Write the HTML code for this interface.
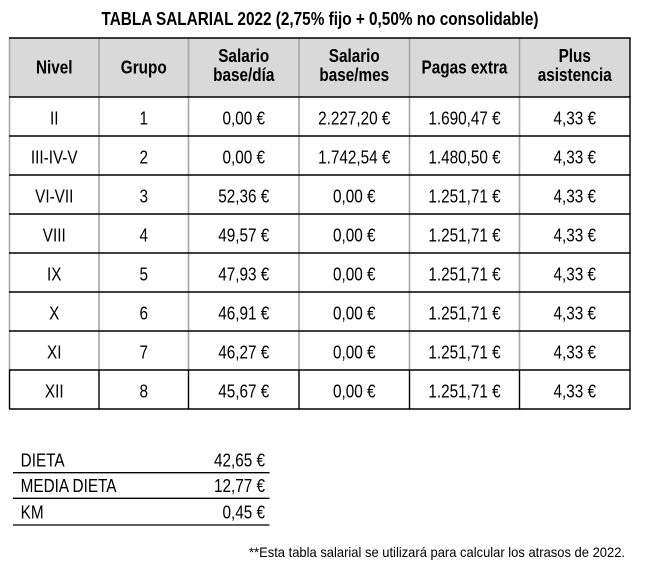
<!DOCTYPE html>
<html>
<head>
<meta charset="utf-8">
<style>
  html, body { margin:0; padding:0; background:#fff; }
  svg { display:block; }
  text { font-family: "Liberation Sans", Arial, sans-serif; fill:#000; }
</style>
</head>
<body>
<svg width="650" height="569" viewBox="0 0 650 569" xmlns="http://www.w3.org/2000/svg">
  <rect x="0" y="0" width="650" height="569" fill="#fff"/>

  <!-- Title -->
  <text x="320" y="25" font-size="18.67" font-weight="bold" text-anchor="middle" textLength="437" lengthAdjust="spacingAndGlyphs">TABLA SALARIAL 2022 (2,75% fijo + 0,50% no consolidable)</text>

  <!-- Header fill -->
  <rect x="9.5" y="38" width="620.5" height="59" fill="#d9d9d9"/>

  <!-- Vertical gray lines (upper rows) -->
  <g stroke="#a6a6a6" stroke-width="1.6">
    <line x1="9.5" y1="38" x2="9.5" y2="370"/>
    <line x1="99" y1="38" x2="99" y2="370"/>
    <line x1="188.5" y1="38" x2="188.5" y2="370"/>
    <line x1="299" y1="38" x2="299" y2="370"/>
    <line x1="409.5" y1="38" x2="409.5" y2="370"/>
    <line x1="519.5" y1="38" x2="519.5" y2="370"/>
  </g>
  <!-- Black verticals for last row -->
  <g stroke="#000" stroke-width="1.4">
    <line x1="9.5" y1="370" x2="9.5" y2="409"/>
    <line x1="99" y1="370" x2="99" y2="409"/>
    <line x1="188.5" y1="370" x2="188.5" y2="409"/>
    <line x1="299" y1="370" x2="299" y2="409"/>
    <line x1="409.5" y1="370" x2="409.5" y2="409"/>
    <line x1="519.5" y1="370" x2="519.5" y2="409"/>
    <line x1="630" y1="38" x2="630" y2="409"/>
  </g>
  <!-- Horizontal lines -->
  <g stroke="#000" stroke-width="1.4">
    <line x1="9" y1="38" x2="630.7" y2="38"/>
    <line x1="9" y1="97" x2="630.7" y2="97"/>
    <line x1="9" y1="136" x2="630.7" y2="136"/>
    <line x1="9" y1="175" x2="630.7" y2="175"/>
    <line x1="9" y1="214" x2="630.7" y2="214"/>
    <line x1="9" y1="253" x2="630.7" y2="253"/>
    <line x1="9" y1="292" x2="630.7" y2="292"/>
    <line x1="9" y1="331" x2="630.7" y2="331"/>
    <line x1="9" y1="370" x2="630.7" y2="370"/>
    <line x1="9" y1="409" x2="630.7" y2="409"/>
  </g>

  <!-- Condensed text group -->
  <g transform="scale(0.82 1)" font-size="18.67">
    <!-- Header -->
    <g font-weight="bold" text-anchor="middle">
      <text x="66.16" y="73.5">Nivel</text>
      <text x="175.3" y="73.5">Grupo</text>
      <text x="297.26" y="62">Salario</text>
      <text x="297.26" y="81">base/día</text>
      <text x="432.01" y="62">Salario</text>
      <text x="432.01" y="81">base/mes</text>
      <text x="566.46" y="73.5">Pagas extra</text>
      <text x="700.91" y="62">Plus</text>
      <text x="700.91" y="81">asistencia</text>
    </g>
    <!-- Rows -->
    <g text-anchor="middle">
      <text x="66.16" y="124.5">II</text>
      <text x="175.3" y="124.5">1</text>
      <text x="297.26" y="124.5">0,00 €</text>
      <text x="432.01" y="124.5">2.227,20 €</text>
      <text x="566.46" y="124.5">1.690,47 €</text>
      <text x="700.91" y="124.5">4,33 €</text>

      <text x="66.16" y="163.5">III-IV-V</text>
      <text x="175.3" y="163.5">2</text>
      <text x="297.26" y="163.5">0,00 €</text>
      <text x="432.01" y="163.5">1.742,54 €</text>
      <text x="566.46" y="163.5">1.480,50 €</text>
      <text x="700.91" y="163.5">4,33 €</text>

      <text x="66.16" y="202.5">VI-VII</text>
      <text x="175.3" y="202.5">3</text>
      <text x="297.26" y="202.5">52,36 €</text>
      <text x="432.01" y="202.5">0,00 €</text>
      <text x="566.46" y="202.5">1.251,71 €</text>
      <text x="700.91" y="202.5">4,33 €</text>

      <text x="66.16" y="241.5">VIII</text>
      <text x="175.3" y="241.5">4</text>
      <text x="297.26" y="241.5">49,57 €</text>
      <text x="432.01" y="241.5">0,00 €</text>
      <text x="566.46" y="241.5">1.251,71 €</text>
      <text x="700.91" y="241.5">4,33 €</text>

      <text x="66.16" y="280.5">IX</text>
      <text x="175.3" y="280.5">5</text>
      <text x="297.26" y="280.5">47,93 €</text>
      <text x="432.01" y="280.5">0,00 €</text>
      <text x="566.46" y="280.5">1.251,71 €</text>
      <text x="700.91" y="280.5">4,33 €</text>

      <text x="66.16" y="319.5">X</text>
      <text x="175.3" y="319.5">6</text>
      <text x="297.26" y="319.5">46,91 €</text>
      <text x="432.01" y="319.5">0,00 €</text>
      <text x="566.46" y="319.5">1.251,71 €</text>
      <text x="700.91" y="319.5">4,33 €</text>

      <text x="66.16" y="358.5">XI</text>
      <text x="175.3" y="358.5">7</text>
      <text x="297.26" y="358.5">46,27 €</text>
      <text x="432.01" y="358.5">0,00 €</text>
      <text x="566.46" y="358.5">1.251,71 €</text>
      <text x="700.91" y="358.5">4,33 €</text>

      <text x="66.16" y="397.5">XII</text>
      <text x="175.3" y="397.5">8</text>
      <text x="297.26" y="397.5">45,67 €</text>
      <text x="432.01" y="397.5">0,00 €</text>
      <text x="566.46" y="397.5">1.251,71 €</text>
      <text x="700.91" y="397.5">4,33 €</text>
    </g>

    <!-- Lower table -->
    <text x="25.2" y="466.5">DIETA</text>
    <text x="323.2" y="466.5" text-anchor="end">42,65 €</text>
    <text x="25.2" y="492">MEDIA DIETA</text>
    <text x="323.2" y="492" text-anchor="end">12,77 €</text>
    <text x="25.2" y="518.5">KM</text>
    <text x="323.2" y="518.5" text-anchor="end">0,45 €</text>
  </g>

  <g stroke="#000" stroke-width="1.3">
    <line x1="13" y1="472.7" x2="269.5" y2="472.7"/>
    <line x1="13" y1="498.3" x2="269.5" y2="498.3"/>
    <line x1="13" y1="525" x2="269.5" y2="525"/>
  </g>

  <!-- Footnote -->
  <text x="249" y="557" font-size="14" textLength="376" lengthAdjust="spacingAndGlyphs">**Esta tabla salarial se utilizará para calcular los atrasos de 2022.</text>
</svg>
</body>
</html>
